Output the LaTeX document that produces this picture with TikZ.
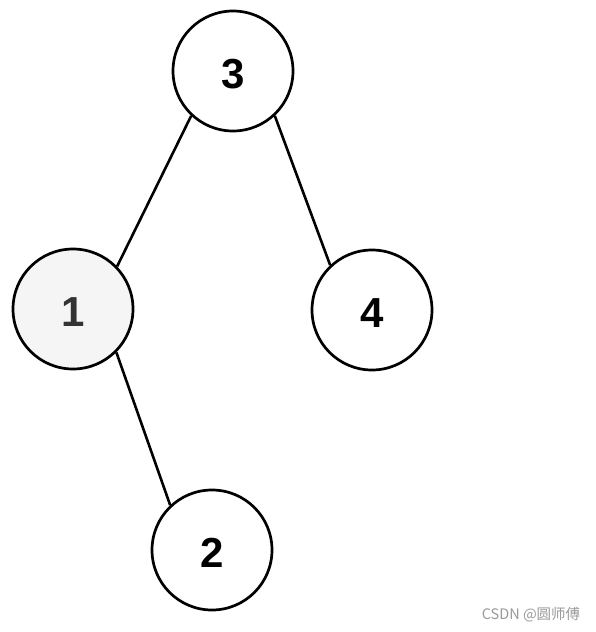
\documentclass[tikz,border=0pt]{standalone}
\usepackage{fontspec}
\setmainfont{Liberation Sans}
\newfontfamily\cjk{Noto Sans CJK SC}
\definecolor{nodegray}{HTML}{F5F5F5}
\definecolor{wmgray}{HTML}{9A9A9A}
\newcommand{\lowdigit}[1]{\raisebox{-3pt}[\height][\depth]{#1}}
\begin{document}
\begin{tikzpicture}[x=1pt,y=-1pt,
  treenode/.style={circle,draw=black,line width=2.7pt,minimum size=120pt,inner sep=0pt,font=\fontsize{42}{42}\selectfont\bfseries},
  edge/.style={line width=2.6pt,draw=black}]
\useasboundingbox (0,0) rectangle (596,632);
\fill[white] (0,0) rectangle (596,632);
\node[treenode] (n3) at (233,71) {\lowdigit{3}};
\node[treenode,fill=nodegray,text=black!80] (n1) at (73,309) {\lowdigit{1}};
\node[treenode] (n4) at (372,310) {\lowdigit{4}};
\node[treenode] (n2) at (212,550) {\lowdigit{2}};
\draw[edge] (n3.227) -- (n1.44);
\draw[edge] (n3.313) -- (n4.133);
\draw[edge] (n1.315) -- (n2.133);
\node[text=wmgray,font=\cjk\fontsize{14.5}{14.5}\selectfont,anchor=center] (wm) at (531,615) {CSDN @圆师傅};
\end{tikzpicture}
\end{document}
